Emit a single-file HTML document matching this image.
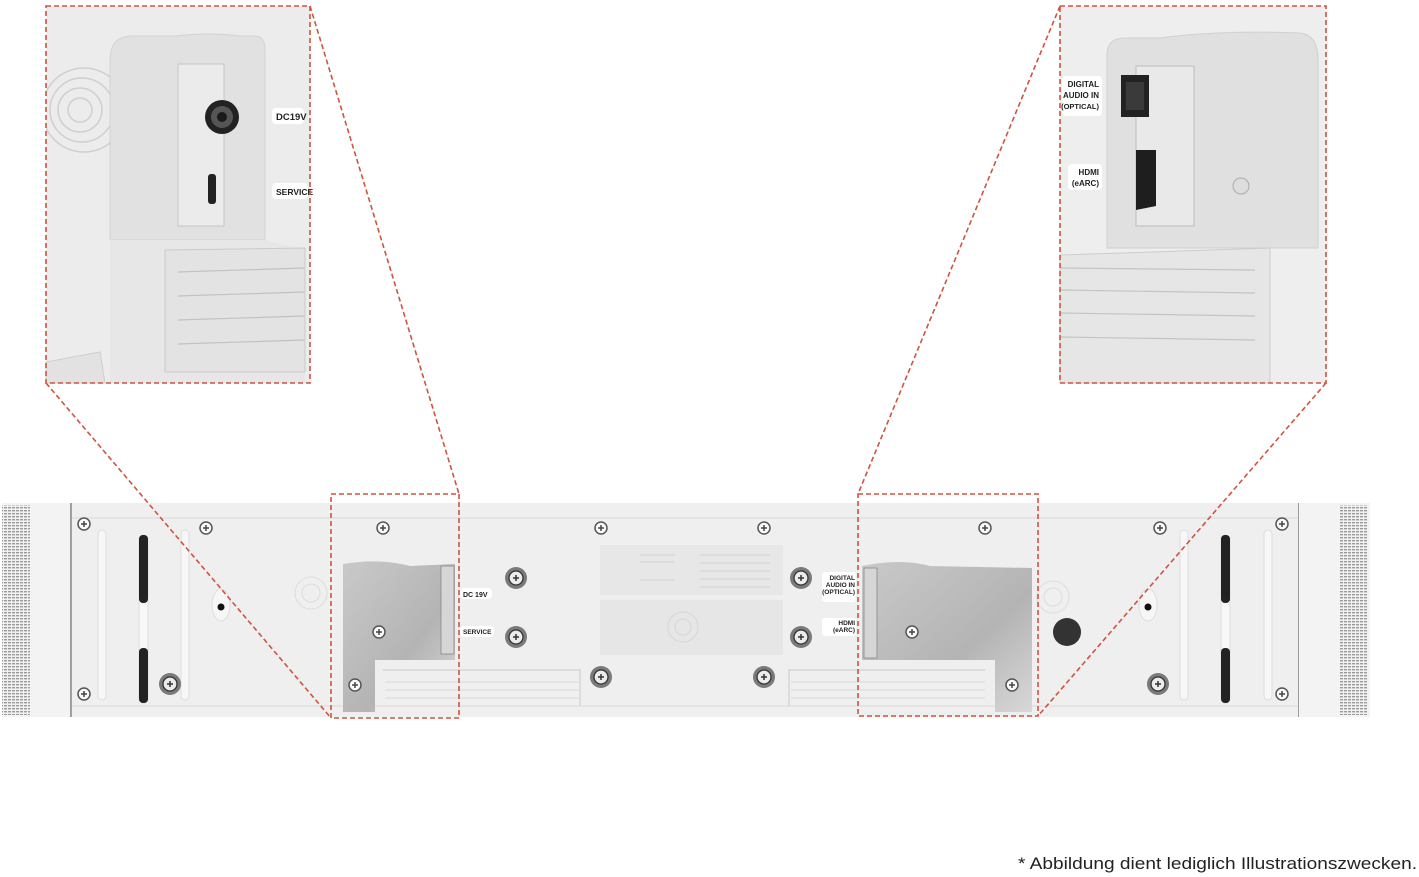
<!DOCTYPE html>
<html><head><meta charset="utf-8"><style>
html,body{margin:0;padding:0;background:#fff;}
svg{display:block;font-family:"Liberation Sans",sans-serif;}
</style></head><body>
<svg width="1419" height="877" viewBox="0 0 1419 877" xmlns="http://www.w3.org/2000/svg">
<defs>
<linearGradient id="rec" x1="0" y1="0" x2="1" y2="1">
<stop offset="0" stop-color="#c9c9c9"/><stop offset="0.6" stop-color="#b4b4b4"/><stop offset="1" stop-color="#d8d8d8"/>
</linearGradient>
<pattern id="grille" width="4" height="3" patternUnits="userSpaceOnUse">
<rect width="4" height="3" fill="#f2f2f2"/><rect width="3" height="1.4" fill="#9a9a9a"/>
</pattern>
<clipPath id="cl"><rect x="46" y="6" width="264" height="377"/></clipPath>
<g id="scr"><circle r="6" fill="#fafafa" stroke="#555" stroke-width="1.5"/><path d="M-3 0H3M0 -3V3" stroke="#444" stroke-width="1.5"/></g>
<g id="bscr"><circle r="11" fill="#7a7a7a"/><circle r="7" fill="#ececec" stroke="#333" stroke-width="1.3"/><path d="M-3 0H3M0 -3V3" stroke="#333" stroke-width="1.5"/></g>
</defs>

<!-- LEFT INSET -->
<rect x="46" y="6" width="264" height="377" fill="#ececec"/>
<g fill="none" stroke="#cfcfcf" stroke-width="1.5" clip-path="url(#cl)"><circle cx="80" cy="110" r="12"/><circle cx="80" cy="110" r="22"/><circle cx="82" cy="110" r="32"/><circle cx="84" cy="110" r="42"/></g>
<path d="M110 60 Q110 36 132 36 L175 36 Q210 32 240 36 L255 36 Q265 36 265 50 L265 240 L110 240 Z" fill="#e1e1e1" stroke="#d2d2d2"/>
<rect x="178" y="64" width="46" height="162" fill="#ebebeb" stroke="#c5c5c5"/>
<circle cx="222" cy="117" r="17" fill="#222"/><circle cx="222" cy="117" r="11" fill="#555"/><circle cx="222" cy="117" r="5" fill="#1a1a1a"/>
<rect x="208" y="174" width="8" height="30" rx="3" fill="#222"/>
<path d="M110 240 L110 383 L305 383 L305 250 L265 240 Z" fill="#e7e7e7"/>
<path d="M165 250 L305 248 L305 372 L165 372 Z" fill="#e3e3e3" stroke="#cacaca"/>
<g stroke="#c2c2c2" stroke-width="1.2"><line x1="178" y1="272" x2="305" y2="268"/><line x1="178" y1="296" x2="305" y2="292"/><line x1="178" y1="320" x2="305" y2="316"/><line x1="178" y1="344" x2="305" y2="340"/></g>
<path d="M46 362 L100 352 L105 383 L46 383Z" fill="#e2e2e2" stroke="#cfcfcf"/>
<rect x="272" y="108" width="32" height="16" rx="4" fill="#fff"/>
<text x="276" y="120" font-size="9.5" font-weight="bold" fill="#222">DC19V</text>
<rect x="272" y="183" width="36" height="16" rx="4" fill="#fff"/>
<text x="276" y="195" font-size="8.5" font-weight="bold" fill="#222">SERVICE</text>

<!-- RIGHT INSET -->
<rect x="1060" y="6" width="266" height="377" fill="#eeeeee"/>
<path d="M1107 55 Q1107 38 1125 38 L1160 38 Q1220 30 1300 33 Q1318 35 1318 60 L1318 248 L1107 248 Z" fill="#e0e0e0" stroke="#d0d0d0"/>
<rect x="1136" y="66" width="58" height="160" fill="#e9e9e9" stroke="#bdbdbd"/>
<rect x="1121" y="75" width="28" height="42" fill="#222"/><rect x="1126" y="82" width="18" height="28" fill="#3a3a3a"/>
<path d="M1136 150 L1156 150 L1156 206 L1136 210 Z" fill="#1e1e1e"/>
<circle cx="1241" cy="186" r="8" fill="#ddd" stroke="#aaa"/>
<path d="M1060 255 L1270 248 L1270 383 L1060 383Z" fill="#e6e6e6" stroke="#cccccc"/>
<g stroke="#c4c4c4" stroke-width="1.2"><line x1="1060" y1="268" x2="1255" y2="270"/><line x1="1060" y1="290" x2="1255" y2="293"/><line x1="1060" y1="313" x2="1255" y2="316"/><line x1="1060" y1="337" x2="1255" y2="340"/></g>
<rect x="1062" y="76" width="40" height="40" rx="4" fill="#fff"/>
<text x="1099" y="87" font-size="8" font-weight="bold" fill="#222" text-anchor="end">DIGITAL</text>
<text x="1099" y="98" font-size="8" font-weight="bold" fill="#222" text-anchor="end">AUDIO IN</text>
<text x="1099" y="109" font-size="7.5" font-weight="bold" fill="#222" text-anchor="end">(OPTICAL)</text>
<rect x="1068" y="164" width="34" height="26" rx="4" fill="#fff"/>
<text x="1099" y="175" font-size="8" font-weight="bold" fill="#222" text-anchor="end">HDMI</text>
<text x="1099" y="186" font-size="8" font-weight="bold" fill="#222" text-anchor="end">(eARC)</text>

<!-- BAR -->
<rect x="2" y="503" width="69" height="214" fill="#f3f3f3"/>
<rect x="2" y="505" width="28" height="210" fill="url(#grille)"/>
<line x1="71" y1="503" x2="71" y2="717" stroke="#444" stroke-width="1"/>
<rect x="1298" y="503" width="72" height="214" fill="#f3f3f3"/>
<rect x="1340" y="505" width="28" height="210" fill="url(#grille)"/>
<line x1="1298" y1="503" x2="1298" y2="717" stroke="#444" stroke-width="1"/>
<rect x="72" y="503" width="1226" height="214" fill="#efefef"/>
<line x1="72" y1="518" x2="1298" y2="518" stroke="#d8d8d8"/>
<line x1="72" y1="706" x2="1298" y2="706" stroke="#d8d8d8"/>
<rect x="98" y="530" width="8" height="170" rx="4" fill="#f7f7f7" stroke="#ddd"/>
<rect x="181" y="530" width="8" height="170" rx="4" fill="#f7f7f7" stroke="#ddd"/>
<rect x="139" y="535" width="9" height="168" rx="4" fill="#f8f8f8" stroke="#ddd"/>
<rect x="139" y="535" width="9" height="68" rx="4" fill="#222"/>
<rect x="139" y="648" width="9" height="55" rx="4" fill="#222"/>
<rect x="1180" y="530" width="8" height="170" rx="4" fill="#f7f7f7" stroke="#ddd"/>
<rect x="1264" y="530" width="8" height="170" rx="4" fill="#f7f7f7" stroke="#ddd"/>
<rect x="1221" y="535" width="9" height="168" rx="4" fill="#f8f8f8" stroke="#ddd"/>
<rect x="1221" y="535" width="9" height="68" rx="4" fill="#222"/>
<rect x="1221" y="648" width="9" height="55" rx="4" fill="#222"/>
<ellipse cx="221" cy="605" rx="9" ry="16" fill="#f6f6f6" stroke="#ddd"/><circle cx="221" cy="607" r="3.5" fill="#111"/>
<ellipse cx="1148" cy="605" rx="9" ry="16" fill="#f6f6f6" stroke="#ddd"/><circle cx="1148" cy="607" r="3.5" fill="#111"/>
<g fill="none" stroke="#dcdcdc"><circle cx="311" cy="593" r="16"/><circle cx="311" cy="593" r="9"/><circle cx="1053" cy="597" r="16"/><circle cx="1053" cy="597" r="9"/></g>
<circle cx="1067" cy="632" r="14" fill="#333"/>
<rect x="600" y="545" width="183" height="50" fill="#e7e7e7"/>
<g stroke="#d3d3d3"><line x1="640" y1="555" x2="675" y2="555"/><line x1="640" y1="562" x2="675" y2="562"/><line x1="640" y1="580" x2="675" y2="580"/><line x1="700" y1="555" x2="770" y2="555"/><line x1="700" y1="563" x2="770" y2="563"/><line x1="700" y1="571" x2="770" y2="571"/><line x1="700" y1="579" x2="770" y2="579"/><line x1="700" y1="587" x2="770" y2="587"/></g>
<rect x="600" y="600" width="183" height="55" fill="#e6e6e6"/>
<g fill="none" stroke="#d6d6d6"><circle cx="683" cy="627" r="15"/><circle cx="683" cy="627" r="8"/></g>
<path d="M343 564 Q380 558 410 566 L455 564 L455 660 L375 660 L375 712 L343 712 Z" fill="url(#rec)"/>
<rect x="441" y="566" width="13" height="88" fill="#d6d6d6" stroke="#888" stroke-width="0.8"/>
<path d="M862 566 Q900 558 930 566 L1032 568 L1032 712 L995 712 L995 660 L862 660 Z" fill="url(#rec)"/>
<rect x="864" y="568" width="13" height="90" fill="#d6d6d6" stroke="#888" stroke-width="0.8"/>
<path d="M383 670 L580 670 L580 706" fill="none" stroke="#c8c8c8"/>
<g stroke="#d8d8d8"><line x1="385" y1="682" x2="578" y2="682"/><line x1="385" y1="690" x2="578" y2="690"/><line x1="385" y1="698" x2="578" y2="698"/></g>
<path d="M789 706 L789 670 L985 670" fill="none" stroke="#c8c8c8"/>
<g stroke="#d8d8d8"><line x1="791" y1="682" x2="985" y2="682"/><line x1="791" y1="690" x2="985" y2="690"/><line x1="791" y1="698" x2="985" y2="698"/></g>
<use href="#scr" x="84" y="524"/><use href="#scr" x="206" y="528"/><use href="#scr" x="383" y="528"/><use href="#scr" x="601" y="528"/><use href="#scr" x="764" y="528"/><use href="#scr" x="985" y="528"/><use href="#scr" x="1160" y="528"/><use href="#scr" x="1282" y="524"/>
<use href="#scr" x="84" y="694"/><use href="#scr" x="355" y="685"/><use href="#scr" x="1012" y="685"/><use href="#scr" x="1282" y="694"/>
<use href="#scr" x="379" y="632"/><use href="#scr" x="912" y="632"/>
<use href="#bscr" x="170" y="684"/><use href="#bscr" x="1158" y="684"/><use href="#bscr" x="601" y="677"/><use href="#bscr" x="764" y="677"/>
<use href="#bscr" x="516" y="578"/><use href="#bscr" x="516" y="637"/><use href="#bscr" x="801" y="578"/><use href="#bscr" x="801" y="637"/>
<rect x="460" y="588" width="32" height="11" rx="4" fill="#fff"/>
<text x="463" y="597" font-size="7" font-weight="bold" fill="#222">DC 19V</text>
<rect x="460" y="626" width="34" height="11" rx="4" fill="#fff"/>
<text x="463" y="634" font-size="6.5" font-weight="bold" fill="#222">SERVICE</text>
<rect x="822" y="572" width="34" height="30" rx="3" fill="#fff"/>
<text x="855" y="580" font-size="6.5" font-weight="bold" fill="#222" text-anchor="end">DIGITAL</text>
<text x="855" y="587" font-size="6.5" font-weight="bold" fill="#222" text-anchor="end">AUDIO IN</text>
<text x="855" y="594" font-size="6.5" font-weight="bold" fill="#222" text-anchor="end">(OPTICAL)</text>
<rect x="822" y="618" width="34" height="18" rx="3" fill="#fff"/>
<text x="855" y="625" font-size="6.5" font-weight="bold" fill="#222" text-anchor="end">HDMI</text>
<text x="855" y="632" font-size="6.5" font-weight="bold" fill="#222" text-anchor="end">(eARC)</text>

<g fill="none" stroke="#d0533e" stroke-width="1.6" stroke-dasharray="5,3">
<rect x="46" y="6" width="264" height="377"/>
<rect x="1060" y="6" width="266" height="377"/>
<rect x="331" y="494" width="128" height="224"/>
<rect x="858" y="494" width="180" height="222"/>
<line x1="46" y1="383" x2="331" y2="718"/>
<line x1="310" y1="6" x2="459" y2="494"/>
<line x1="1060" y1="6" x2="858" y2="494"/>
<line x1="1326" y1="383" x2="1038" y2="716"/>
</g>

<text x="1417" y="869" font-size="17" fill="#222" text-anchor="end" textLength="399" lengthAdjust="spacingAndGlyphs">* Abbildung dient lediglich Illustrationszwecken.</text>
</svg>
</body></html>
